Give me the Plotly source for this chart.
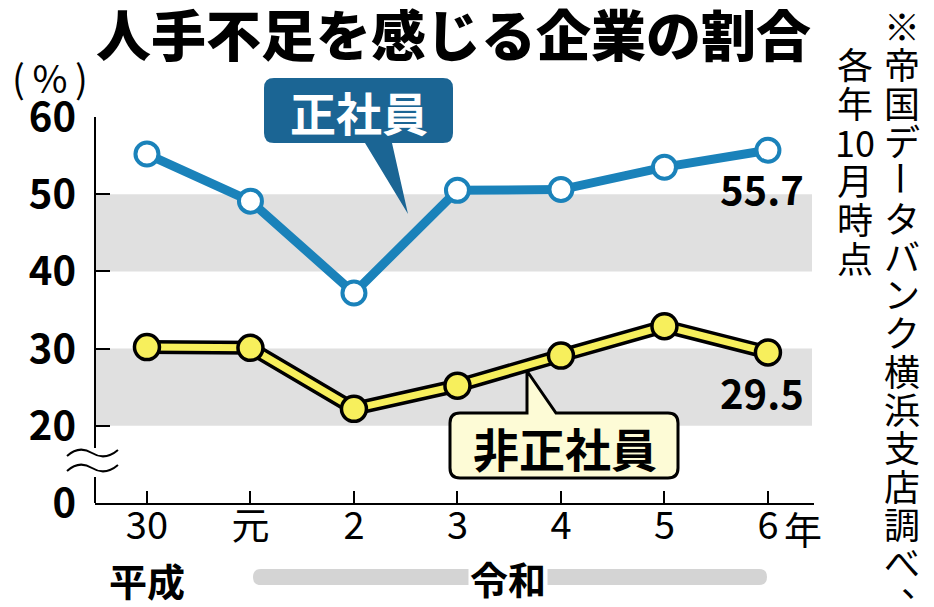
import plotly.graph_objects as go

# data
years = ["30", "元", "2", "3", "4", "5", "6"]
seishain = [55.2, 49.1, 37.2, 50.5, 50.6, 53.5, 55.7]      # 正社員
hiseishain = [30.2, 30.1, 22.2, 25.2, 29.1, 32.9, 29.5]    # 非正社員
ytick_vals = [10, 20, 30, 40, 50, 60]
ytick_text = ["0", "20", "30", "40", "50", "60"]            # axis is broken between 0 and 20
bands = [(20, 30), (40, 50)]

FONT = "Noto Sans CJK JP"
BLUE = "#1a82ba"
BLUE_BOX = "#1b6594"
YELLOW = "#f7ef5c"
CREAM = "#fdfbd6"

# plot area in pixels
W, H = 934, 607
L, R, T, B = 95, 814, 117, 503


def px(x):
    return (x - L) / (R - L)


def py(y):
    return (B - y) / (B - T)


def rounded_path(x0, y0, x1, y1, r, tail=None):
    # rounded rect in pixel coords, optional tail on top ("top") or bottom ("bottom")
    pts = []
    pts.append("M%f,%f" % (px(x0 + r), py(y0)))
    if tail and tail[0] == "top":
        _, a, tip, b = tail
        pts.append("L%f,%f" % (px(a), py(y0)))
        pts.append("L%f,%f" % (px(tip[0]), py(tip[1])))
        pts.append("L%f,%f" % (px(b), py(y0)))
    pts.append("L%f,%f" % (px(x1 - r), py(y0)))
    pts.append("Q%f,%f %f,%f" % (px(x1), py(y0), px(x1), py(y0 + r)))
    pts.append("L%f,%f" % (px(x1), py(y1 - r)))
    pts.append("Q%f,%f %f,%f" % (px(x1), py(y1), px(x1 - r), py(y1)))
    if tail and tail[0] == "bottom":
        _, a, tip, b = tail
        pts.append("L%f,%f" % (px(b), py(y1)))
        pts.append("L%f,%f" % (px(tip[0]), py(tip[1])))
        pts.append("L%f,%f" % (px(a), py(y1)))
    pts.append("L%f,%f" % (px(x0 + r), py(y1)))
    pts.append("Q%f,%f %f,%f" % (px(x0), py(y1), px(x0), py(y1 - r)))
    pts.append("L%f,%f" % (px(x0), py(y0 + r)))
    pts.append("Q%f,%f %f,%f" % (px(x0), py(y0), px(x0 + r), py(y0)))
    pts.append("Z")
    return " ".join(pts)


def wave_path(y):
    return "M%f,%f Q%f,%f %f,%f T%f,%f" % (
        px(67), py(y + 3), px(79), py(y - 8), px(92), py(y), px(118), py(y - 3))


fig = go.Figure()

fig.add_trace(go.Scatter(
    x=years, y=seishain, mode="lines+markers",
    line=dict(color=BLUE, width=9),
    marker=dict(size=23, color="white", line=dict(color=BLUE, width=4)),
    showlegend=False, cliponaxis=False
))

# yellow line with black outline
fig.add_trace(go.Scatter(
    x=years, y=hiseishain, mode="lines",
    line=dict(color="black", width=14),
    showlegend=False, cliponaxis=False
))
fig.add_trace(go.Scatter(
    x=years, y=hiseishain, mode="lines+markers",
    line=dict(color=YELLOW, width=7),
    marker=dict(size=25, color=YELLOW, line=dict(color="black", width=3.5)),
    showlegend=False, cliponaxis=False
))

shapes = []
for lo, hi in bands:
    shapes.append(dict(type="rect", xref="paper", yref="y", x0=0, x1=px(812), y0=lo, y1=hi,
                       fillcolor="#e0e0e0", line=dict(width=0), layer="below"))

# callouts
shapes.append(dict(type="path", xref="paper", yref="paper", layer="below",
                   path=rounded_path(264, 78, 453, 143, 10, ("bottom", 365, (408, 214), 392)),
                   fillcolor=BLUE_BOX, line=dict(width=0)))
shapes.append(dict(type="path", xref="paper", yref="paper", layer="below",
                   path=rounded_path(450, 413, 678, 478, 10, ("top", 527, (527, 371), 556)),
                   fillcolor=CREAM, line=dict(color="black", width=3)))

# 令和 bar
shapes.append(dict(type="path", xref="paper", yref="paper", layer="below",
                   path=rounded_path(253, 569, 767, 585, 8),
                   fillcolor="#d4d4d4", line=dict(width=0)))

# broken y axis
shapes.append(dict(type="line", xref="paper", yref="paper", x0=0, x1=0, y0=py(117), y1=py(448),
                   line=dict(color="black", width=2)))
shapes.append(dict(type="line", xref="paper", yref="paper", x0=0, x1=0, y0=py(477), y1=py(503),
                   line=dict(color="black", width=2)))
for wy in (453, 468):
    shapes.append(dict(type="path", xref="paper", yref="paper", path=wave_path(wy),
                       line=dict(color="black", width=2)))

annotations = []


def ann(x, y, text, size, bold=False, color="black", **kw):
    d = dict(xref="paper", yref="paper", x=px(x), y=py(y), text=text, showarrow=False,
             xanchor="center", yanchor="middle",
             font=dict(family=FONT, size=size, color=color, weight="bold" if bold else "normal"))
    d.update(kw)
    annotations.append(d)


ann(453, 32, "人手不足を感じる企業の割合", 55, bold=True)
annotations[-1]["font"]["weight"] = 900
ann(50, 76, "(\u2009%\u2009)", 38)
ann(359, 111, "正社員", 46, bold=True, color="white")
ann(565, 447, "非正社員", 46, bold=True)

# vertical note
note1 = "※帝国データバンク横浜支店調べ、"
note2 = ["各", "年", "10", "月", "時", "点"]
for i, ch in enumerate(note1):
    kw = {}
    if ch == "ー":
        kw["textangle"] = 90
    if ch == "、":
        kw["xshift"] = 17
        kw["yshift"] = 19
    ann(902, 25 + i * 38.3, ch, 36, **kw)
for i, ch in enumerate(note2):
    ann(855, 63 + i * 38.8, ch, 36)

# end value labels (last category index)
last = len(years) - 1
for vals, ys in ((seishain, -38), (hiseishain, -40)):
    annotations.append(dict(x=last, y=vals[-1], xref="x", yref="y", text="%.1f" % vals[-1],
                            showarrow=False, xshift=-6, yshift=ys, yanchor="middle",
                            font=dict(family=FONT, size=40, color="black", weight="bold")))

# era labels
annotations.append(dict(x=0, xref="x", y=py(579), yref="paper", text="平成", showarrow=False,
                        yanchor="middle",
                        font=dict(family=FONT, size=38, color="black", weight="bold")))
ann(508, 577, "令和", 38, bold=True, bgcolor="white", borderpad=1)
annotations.append(dict(x=last, xref="x", y=py(527), yref="paper", text="年", showarrow=False,
                        xshift=35, yanchor="middle", font=dict(family=FONT, size=38, color="black")))

fig.update_layout(
    width=W, height=H, autosize=False,
    margin=dict(l=L, r=W - R, t=T, b=H - B, pad=0),
    paper_bgcolor="white", plot_bgcolor="rgba(0,0,0,0)",
    shapes=shapes, annotations=annotations,
    font=dict(family=FONT, color="black"),
)
fig.update_xaxes(
    type="category", range=[-0.502, 6.445], showgrid=False, zeroline=False,
    showline=True, linecolor="black", linewidth=2,
    ticks="inside", ticklen=12, tickwidth=2, tickcolor="black",
    ticklabelstandoff=-12,
    tickfont=dict(family=FONT, size=38, color="black"),
)
fig.update_yaxes(
    range=[10, 60], tickvals=ytick_vals, ticktext=ytick_text,
    showgrid=False, zeroline=False, showline=False,
    ticks="inside", ticklen=15, tickwidth=2, tickcolor="black",
    ticklabelstandoff=18,
    tickfont=dict(family=FONT, size=40, color="black", weight="bold"),
)

# page has a default body margin; drop it so the figure fills the window
fig.write_html("out.html", config={"displayModeBar": False},
               post_script="document.body.style.margin='0px';")
